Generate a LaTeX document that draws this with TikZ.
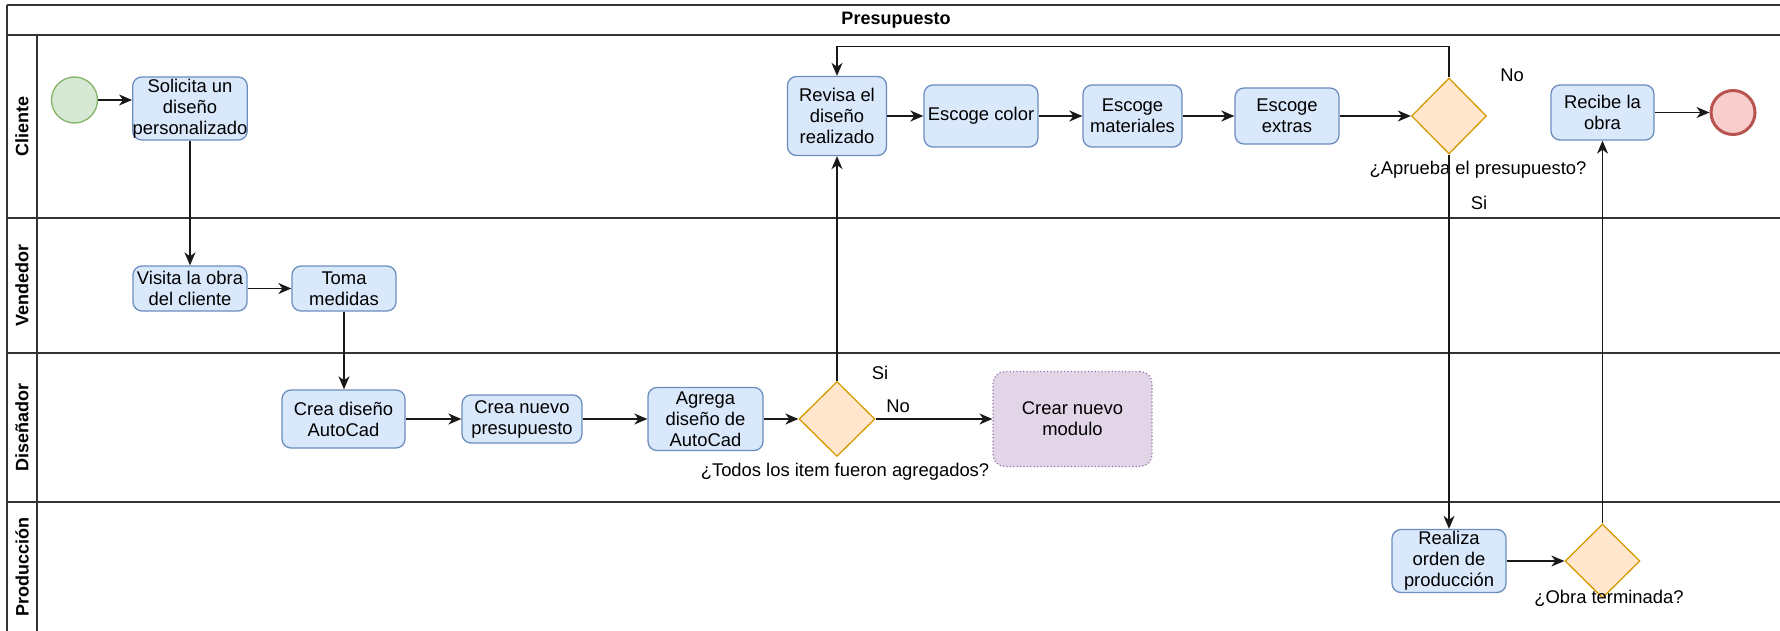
\documentclass[tikz,border=0pt]{standalone}
\usepackage{fontspec}
\setmainfont{Liberation Sans}
\usetikzlibrary{shapes.geometric,arrows.meta,calc}

\definecolor{bfill}{HTML}{DAE8FC}
\definecolor{bdraw}{HTML}{6C8EBF}
\definecolor{ofill}{HTML}{FFE6CC}
\definecolor{odraw}{HTML}{D79B00}
\definecolor{gfill}{HTML}{D5E8D4}
\definecolor{gdraw}{HTML}{82B366}
\definecolor{rfill}{HTML}{F8CECC}
\definecolor{rdraw}{HTML}{B85450}
\definecolor{pfill}{HTML}{E1D5E7}
\definecolor{pdraw}{HTML}{9673A6}
\definecolor{lanecol}{HTML}{333333}

\tikzset{
  txt/.style={font=\fontsize{18.4}{21}\selectfont, align=center, inner sep=0pt},
  task/.style={txt, draw=bdraw, fill=bfill, rounded corners=9pt, line width=1.3pt},
  gate/.style={diamond, draw=odraw, fill=ofill, line width=1.3pt, inner sep=0pt},
  newmod/.style={txt, draw=pdraw, fill=pfill, rounded corners=12pt, line width=1.2pt,
                 dash pattern=on 1.2pt off 2.2pt},
  startev/.style={circle, draw=gdraw, fill=gfill, line width=1.3pt, inner sep=0pt},
  endev/.style={circle, draw=rdraw, fill=rfill, line width=3pt, inner sep=0pt},
  conn/.style={line width=1.5pt, draw=black!90, -{Stealth[length=13pt,width=11pt,inset=4pt]}},
  lane/.style={line width=1.6pt, draw=lanecol},
  lanelabel/.style={font=\bfseries\fontsize{18}{21}\selectfont, rotate=90, inner sep=0pt},
}

\begin{document}
\begin{tikzpicture}[x=1pt,y=-1pt]
\useasboundingbox (0,0) rectangle (1780,631);

% pool frame and lanes
\draw[lane] (7,5) -- (1780,5);
\draw[lane] (7,35) -- (1780,35);
\draw[lane] (7,218) -- (1780,218);
\draw[lane] (7,353) -- (1780,353);
\draw[lane] (7,502) -- (1780,502);
\draw[lane] (7,5) -- (7,631);
\draw[lane] (37,35) -- (37,631);

\node[font=\bfseries\fontsize{18}{21}\selectfont] (title) at (896,20) {Presupuesto};
\node[lanelabel] (lcli) at (22,126.5) {Cliente};
\node[lanelabel] (lven) at (22,285.5) {Vendedor};
\node[lanelabel] (ldis) at (22,427.5) {Diseñador};
\node[lanelabel] (lpro) at (22,567) {Producción};

% Cliente
\node[startev, minimum size=46pt] (start) at (74.5,100) {};
\node[task, minimum width=114pt, minimum height=63pt] (sol) at (190,108.5) {Solicita un\\diseño\\personalizado};
\node[task, minimum width=99pt, minimum height=79pt] (rev) at (837,116) {Revisa el\\diseño\\realizado};
\node[task, minimum width=114pt, minimum height=62pt] (col) at (981,116) {Escoge color};
\node[task, minimum width=99pt, minimum height=62pt] (mat) at (1132.5,116) {Escoge\\materiales};
\node[task, minimum width=104pt, minimum height=56pt] (ext) at (1287,116) {Escoge\\extras};
\node[gate, minimum width=75pt, minimum height=76pt] (d1) at (1449,116) {};
\node[task, minimum width=103pt, minimum height=55pt] (rec) at (1602.5,112.5) {Recibe la\\obra};
\node[endev, minimum size=44pt] (end) at (1733,112.5) {};

% Vendedor
\node[task, minimum width=114pt, minimum height=45pt] (vis) at (190,288.5) {Visita la obra\\del cliente};
\node[task, minimum width=104pt, minimum height=45pt] (toma) at (344,288.5) {Toma\\medidas};

% Diseñador
\node[task, minimum width=123pt, minimum height=58pt] (cdis) at (343.5,419) {Crea diseño\\AutoCad};
\node[task, minimum width=120pt, minimum height=48pt] (cnue) at (522,419) {Crea nuevo\\presupuesto};
\node[task, minimum width=115pt, minimum height=63pt] (agr) at (705.5,419) {Agrega\\diseño de\\AutoCad};
\node[gate, minimum width=76pt, minimum height=75pt] (d2) at (837,419) {};
\node[newmod, minimum width=159pt, minimum height=95pt] (mod) at (1072.5,419) {Crear nuevo\\modulo};

% Producción
\node[task, minimum width=114pt, minimum height=63pt] (real) at (1449,561) {Realiza\\orden de\\producción};
\node[gate, minimum width=75pt, minimum height=74pt] (d3) at (1602.5,561) {};

% gateway captions and branch labels
\node[txt] (q1) at (1478,170) {¿Aprueba el presupuesto?};
\node[txt] (q2) at (845,472) {¿Todos los item fueron agregados?};
\node[txt] (q3) at (1609,598) {¿Obra terminada?};
\node[txt] (no1) at (1512,75) {No};
\node[txt] (si1) at (1479,203) {Si};
\node[txt] (si2) at (880,373) {Si};
\node[txt] (no2) at (898,406) {No};

% flows
\draw[conn] (start.east) -- (start.east -| sol.west);
\draw[conn] (sol.south) -- (vis.north);
\draw[conn] (vis.east) -- (toma.west);
\draw[conn] (toma.south) -- (toma.south |- cdis.north);
\draw[conn] (cdis.east) -- (cnue.west);
\draw[conn] (cnue.east) -- (agr.west);
\draw[conn] (agr.east) -- (d2.west);
\draw[conn] (d2.east) -- (mod.west);
\draw[conn] (d2.north) -- (rev.south);
\draw[conn] (rev.east) -- (col.west);
\draw[conn] (col.east) -- (mat.west);
\draw[conn] (mat.east) -- (ext.west);
\draw[conn] (ext.east) -- (d1.west);
\draw[conn] (d1.north) -- ++(0,-31) -| (rev.north);
\draw[conn] (d1.south) -- (real.north);
\draw[conn] (real.east) -- (d3.west);
\draw[conn] (d3.north) -- (d3.north |- rec.south);
\draw[conn] (rec.east) -- (end.west);
\end{tikzpicture}
\end{document}
